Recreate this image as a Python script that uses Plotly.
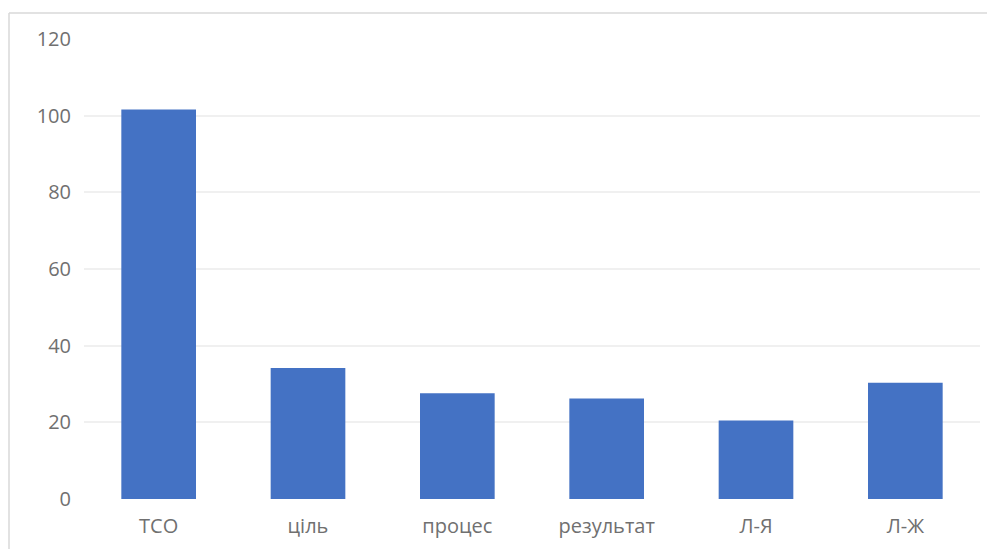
import plotly.graph_objects as go

categories = ["ТСО", "ціль", "процес", "результат", "Л-Я", "Л-Ж"]
values = [101.6, 34.2, 27.6, 26.2, 20.5, 30.3]
y_ticks = [0, 20, 40, 60, 80, 100, 120]

# page body has an 8px margin, so the figure is sized to fit inside it
OFF = 8
W, H = 995 - 2 * OFF, 557 - 2 * OFF
L, T = 84 - OFF, 39 - OFF
R = W - (980 - OFF)
B = H - (499 - OFF)
pw, ph = W - L - R, H - T - B

def px_x(p):
    return (p - OFF - L) / pw

def px_y(p):
    return (H - B - (p - OFF)) / ph

fig = go.Figure(go.Bar(
    x=categories, y=values,
    marker=dict(color="#4472C4", line=dict(width=0)),
    width=0.5,
))

font_fam = "Open Sans, Noto Sans, sans-serif"
txt_col = "#707070"
fig.update_layout(
    width=W, height=H,
    margin=dict(l=L, r=R, t=T, b=B),
    paper_bgcolor="white", plot_bgcolor="white",
    showlegend=False,
    font=dict(family=font_fam, size=20, color=txt_col),
    xaxis=dict(showgrid=False, showline=False, zeroline=False, ticks="",
               ticklabelstandoff=13, tickfont=dict(family=font_fam, size=20, color=txt_col)),
    yaxis=dict(range=[0, 120], tickvals=y_ticks, showgrid=True, gridcolor="#F0F0F0",
               gridwidth=1.5, zeroline=False, showline=False, ticks="",
               ticklabelstandoff=12, tickfont=dict(family=font_fam, size=20, color=txt_col)),
    shapes=[
        dict(type="line", xref="paper", yref="paper",
             x0=px_x(9), x1=px_x(1000), y0=px_y(13), y1=px_y(13),
             line=dict(color="#D9D9D9", width=1.5)),
        dict(type="line", xref="paper", yref="paper",
             x0=px_x(9), x1=px_x(9), y0=px_y(13), y1=px_y(560),
             line=dict(color="#D9D9D9", width=1.5)),
    ],
)

fig.write_html("out.html")
